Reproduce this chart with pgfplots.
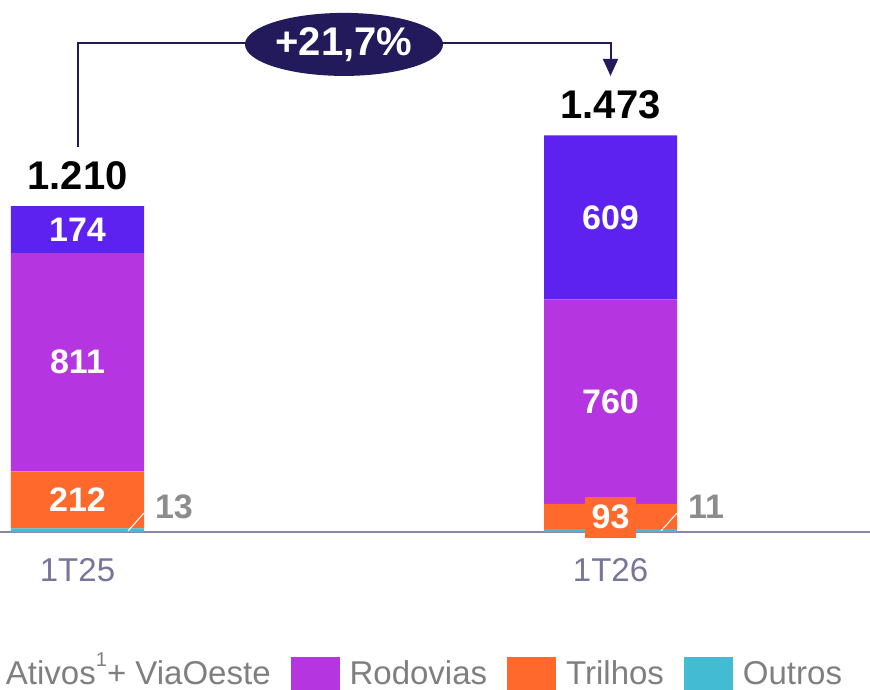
\documentclass[border=0pt]{standalone}
\usepackage{pgfplots}
\pgfplotsset{compat=1.18}
\usepackage{fontspec}
\setmainfont{Liberation Sans}
\usetikzlibrary{arrows.meta,shapes.geometric}
\definecolor{novo}{HTML}{5D22F0}
\definecolor{rodo}{HTML}{B536E0}
\definecolor{tril}{HTML}{FF6A2C}
\definecolor{outr}{HTML}{42BBD3}
\definecolor{navy}{HTML}{231A5C}
\definecolor{axisgray}{HTML}{8A88A6}
\definecolor{ticklab}{HTML}{77759A}
\definecolor{lgray}{HTML}{8C8C8C}
\definecolor{legtext}{HTML}{7F7F7F}
\tikzset{seglab/.style={font=\bfseries\fontsize{17pt}{20pt}\selectfont, text=white, inner sep=0pt},
  sidelab/.style={font=\bfseries\fontsize{17pt}{20pt}\selectfont, text=lgray, inner sep=0pt},
  totlab/.style={font=\bfseries\fontsize{20pt}{24pt}\selectfont, inner sep=0pt}}
\pgfplotsset{sqlegend/.style={legend image code/.code={\fill[##1, draw=none] (0pt,-8.6pt) rectangle (24.5pt,8.65pt);}}}
\begin{document}
\begin{tikzpicture}
\path[use as bounding box] (0,0) rectangle (435pt,344.5pt);
\clip (0,0) rectangle (435pt,344.5pt);
\begin{axis}[
  at={(0pt,78.5pt)}, anchor=south west,
  scale only axis, width=435pt, height=266pt,
  xmin=0, xmax=870, ymin=0, ymax=1976,
  ybar stacked, bar width=133,
  hide y axis,
  axis x line*=bottom,
  x axis line style={draw=axisgray, line width=1pt, -},
  xtick={77.5,610.5}, xticklabels={1T25,1T26},
  major tick length=0pt,
  xticklabel style={font=\fontsize{16.5pt}{19pt}\selectfont, text=ticklab, inner sep=0pt, anchor=north, yshift=-13pt},
  clip=false,
  legend columns=4, reverse legend,
  legend style={draw=none, fill=none, inner sep=0pt, outer sep=0pt,
    at={(axis cs:846,-593)}, anchor=south east,
    font=\fontsize{16.5pt}{19pt}\selectfont, text=legtext,
    /tikz/every odd column/.append style={column sep=3pt},
    /tikz/every even column/.append style={column sep=8pt}},
]
\addplot+[fill=outr, draw=none, sqlegend] coordinates {(77.5,13) (610.5,11)};
\addplot+[fill=tril, draw=none, sqlegend] coordinates {(77.5,212) (610.5,93)};
\addplot+[fill=rodo, draw=none, sqlegend] coordinates {(77.5,811) (610.5,760)};
\addplot+[fill=novo, draw=none, sqlegend] coordinates {(77.5,174) (610.5,609)};
\legend{Outros,Trilhos,Rodovias,{Novos Ativos\raisebox{0.55em}[0pt][0pt]{\fontsize{10pt}{12pt}\selectfont 1}+ ViaOeste}}
\coordinate (W1a) at (axis cs:128,3.7);
\coordinate (W1b) at (axis cs:144,70.6);
\coordinate (W2a) at (axis cs:661,3.7);
\coordinate (W2b) at (axis cs:677,70.6);
\coordinate (L174) at (axis cs:77.5,1123);
\coordinate (L811) at (axis cs:77.5,630.5);
\coordinate (L212) at (axis cs:77.5,119);
\coordinate (L609) at (axis cs:610.5,1168.5);
\coordinate (L760) at (axis cs:610.5,484);
\coordinate (L93) at (axis cs:610.5,55.7);
\coordinate (L13) at (axis cs:174,92.9);
\coordinate (L11) at (axis cs:706,92.9);
\coordinate (T1) at (axis cs:77.5,1322.6);
\coordinate (T2) at (axis cs:610.5,1588);
\coordinate (B1) at (axis cs:77.5,1430);
\coordinate (B2) at (axis cs:610.5,1816.7);
\coordinate (B3) at (axis cs:610.5,1694);
\coordinate (E) at (axis cs:344,1811);
\end{axis}
\draw[white, line width=0.5pt] (W1a) -- (W1b);
\draw[white, line width=0.5pt] (W2a) -- (W2b);
\node[seglab] at (L174) {174};
\node[seglab] at (L811) {811};
\node[seglab] at (L212) {212};
\node[seglab] at (L609) {609};
\node[seglab] at (L760) {760};
\node[sidelab] at (L13) {13};
\node[sidelab] at (L11) {11};
\node[totlab] at (T1) {1.210};
\node[totlab] at (T2) {1.473};
\draw[navy, line width=1pt, -{Triangle[width=7.5pt,length=8.5pt]}] (B1) |- (B2) -- (B3);
\node[ellipse, fill=navy, minimum width=99pt, minimum height=31.5pt, inner sep=0pt, text=white, font=\bfseries\fontsize{20pt}{23pt}\selectfont] at (E) {+21,7\%};
\node[fill=tril, minimum width=25.5pt, minimum height=20.5pt, inner sep=0pt, text=white, font=\bfseries\fontsize{17pt}{20pt}\selectfont] at (L93) {93};
\end{tikzpicture}
\end{document}
